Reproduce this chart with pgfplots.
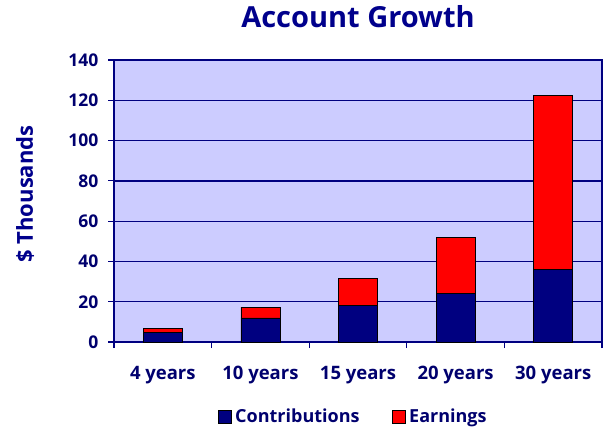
\documentclass[border=0pt]{standalone}
\usepackage{pgfplots}
\pgfplotsset{compat=1.18}
\usepackage{fontspec}
\setmainfont{Open Sans}
\definecolor{navytext}{RGB}{0,0,110}
\definecolor{titlecol}{RGB}{0,0,140}
\definecolor{navyline}{RGB}{0,0,128}
\definecolor{plotbg}{RGB}{204,204,255}
\definecolor{contrib}{RGB}{0,0,128}
\definecolor{earn}{RGB}{255,0,0}

\begin{document}
\begin{tikzpicture}
\begin{axis}[
  scale only axis, width=488pt, height=282pt,
  ybar stacked, bar width=0.4,
  xmin=-0.5, xmax=4.5, ymin=0, ymax=140,
  ytick={0,20,...,140},
  xtick={0,...,4},
  xticklabels={4 years,10 years,15 years,20 years,30 years},
  minor xtick={-0.5,0.5,...,4.5},
  major x tick style={draw=none},
  xtick pos=bottom, ytick pos=left,
  tick align=outside,
  major tick length=6pt, minor tick length=6pt,
  every tick/.style={navyline, line width=1.2pt},
  minor tick style={navyline, line width=1.2pt},
  axis line style={navyline, line width=1.3pt},
  ymajorgrids, major grid style={navyline, line width=1.3pt},
  axis background/.style={fill=plotbg},
  /pgf/number format/assume math mode=true,
  yticklabel style={font=\fontsize{17.5}{17.5}\selectfont\bfseries, text=navytext, xshift=-6pt},
  xticklabel style={font=\fontsize{18.5}{18.5}\selectfont\bfseries, text=navytext, yshift=-15pt},
  title={Account Growth},
  title style={font=\fontsize{29}{30}\selectfont\bfseries, text=titlecol, at={(rel axis cs:0.5,1)}, anchor=base, yshift=27pt},
  ylabel={\$ Thousands},
  ylabel style={font=\fontsize{22}{22}\selectfont\bfseries, text=titlecol, at={(rel axis cs:-0.182,0.525)}, anchor=center},
  legend style={at={(rel axis cs:0.49,-0.265)}, anchor=center, draw=none, fill=none,
    font=\fontsize{18}{18}\selectfont\bfseries, text=navytext, legend columns=2,
    /tikz/every even column/.append style={column sep=30pt}},
  legend image code/.code={\draw[#1, draw=black, line width=0.6pt] (0pt,-6.5pt) rectangle (13pt,6.5pt);},
]
\addplot[fill=contrib, draw=black, line width=0.7pt] coordinates {(0,4.8) (1,12) (2,18) (3,24) (4,36)};
\addplot[fill=earn, draw=black, line width=0.7pt] coordinates {(0,2.0) (1,5.3) (2,13.7) (3,27.9) (4,86.3)};
\legend{\hspace{2pt}Contributions, \hspace{2pt}Earnings}
\coordinate (bbl) at (rel axis cs:-0.2336,-0.305);
\coordinate (btr) at (rel axis cs:1.0102,1.2128);
\end{axis}
\pgfresetboundingbox
\path (bbl) rectangle (btr);
\end{tikzpicture}
\end{document}
